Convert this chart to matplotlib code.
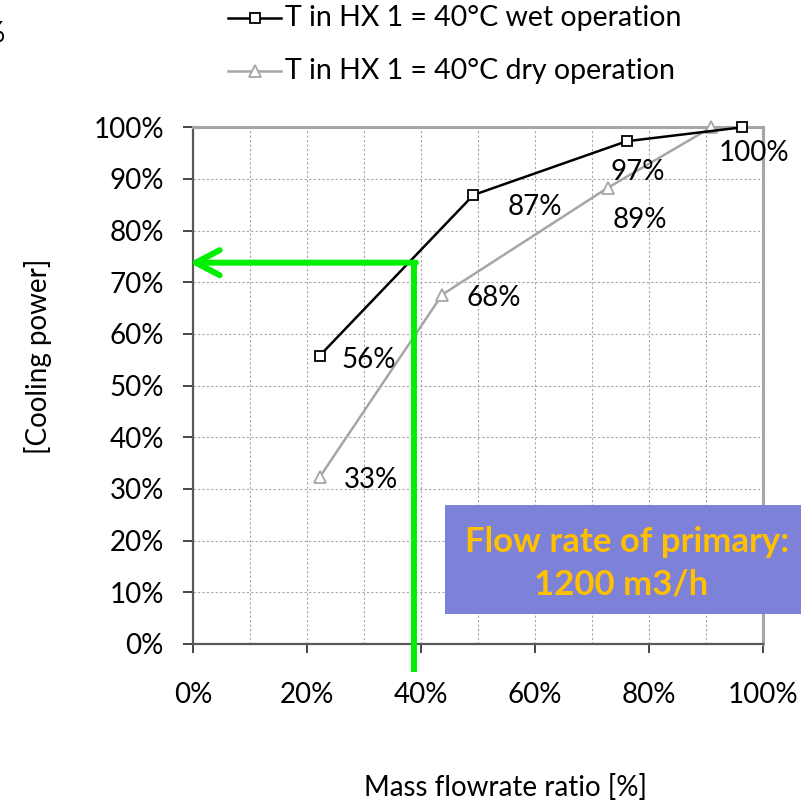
import matplotlib
matplotlib.use("Agg")
import matplotlib.pyplot as plt
from matplotlib.lines import Line2D
from matplotlib.patches import Rectangle
from matplotlib.ticker import MultipleLocator, FuncFormatter

plt.rcParams['font.family'] = ['Lato', 'DejaVu Sans']

# data (percent)
wet_x = [22.2, 49.2, 76.1, 96.4]
wet_y = [55.8, 86.9, 97.3, 100.0]
wet_labels = ["56%", "87%", "97%", "100%"]
dry_x = [22.2, 43.7, 72.8, 91.0]
dry_y = [32.3, 67.6, 88.3, 100.0]
dry_labels = ["33%", "68%", "89%", "100%"]
wet_name = "T in HX 1 = 40°C wet operation"
dry_name = "T in HX 1 = 40°C dry operation"
marker_ratio, marker_power = 38.8, 73.8
box_lines = ["Flow rate of primary:", "1200 m3/h"]

# label offsets in pixels (dx, dy) from each point
wet_off = [(49, -4), (61, -12), (11, -31), (12, -26)]
dry_off = [(51, -3), (52, -3), (32, -32), None]

W, H = 801, 802
fig = plt.figure(figsize=(W / 100, H / 100), dpi=100)
ax = fig.add_axes([193.3 / W, (H - 644) / H, (762.7 - 193.3) / W, (644 - 127.3) / H])
ax.set_xlim(0, 100); ax.set_ylim(0, 100)

pct = FuncFormatter(lambda v, p: f"{v:.0f}%")
ax.xaxis.set_major_locator(MultipleLocator(20)); ax.xaxis.set_minor_locator(MultipleLocator(10))
ax.yaxis.set_major_locator(MultipleLocator(10))
ax.xaxis.set_major_formatter(pct); ax.yaxis.set_major_formatter(pct)
ax.tick_params(axis='both', which='major', direction='out', labelsize=20, color='#262626', width=1.2)
ax.tick_params(axis='y', length=7.2, pad=14)
ax.tick_params(axis='x', length=6.5, pad=21)
ax.tick_params(axis='x', which='minor', length=0)
ax.grid(True, which='both', color='#A6A6A6', ls=(0, (2, 2)), lw=0.8)
ax.set_axisbelow(True)
for s in ('left', 'bottom'):
    ax.spines[s].set_color('#595959'); ax.spines[s].set_linewidth(1.6)
for s in ('top', 'right'):
    ax.spines[s].set_color('#A6A6A6'); ax.spines[s].set_linewidth(2.2)

ax.plot(wet_x, wet_y, color='black', lw=1.8, marker='s', ms=6.5, mfc='white', mec='black', mew=1.3, zorder=4, clip_on=False)
ax.plot(dry_x, dry_y, color='#A6A6A6', lw=1.8, marker='^', ms=8, mfc='white', mec='#A6A6A6', mew=1.3, zorder=3, clip_on=False)

px = 72 / 100
for x, y, t, o in zip(wet_x, wet_y, wet_labels, wet_off):
    ax.annotate(t, (x, y), xytext=(o[0] * px, o[1] * px), textcoords='offset points',
                ha='center', va='center', fontsize=20, zorder=6)
for x, y, t, o in zip(dry_x, dry_y, dry_labels, dry_off):
    if o is None:
        continue
    ax.annotate(t, (x, y), xytext=(o[0] * px, o[1] * px), textcoords='offset points',
                ha='center', va='center', fontsize=20, zorder=6)

# green reading guide
green = '#00F000'
ax.plot([marker_ratio, marker_ratio], [marker_power, -5.4], color=green, lw=4.3,
        solid_capstyle='butt', clip_on=False, zorder=7)
ax.annotate('', xy=(-0.7, marker_power), xytext=(marker_ratio + 0.3, marker_power),
            arrowprops=dict(arrowstyle='->,head_length=0.86,head_width=0.45', color=green, lw=4.3,
                            shrinkA=0, shrinkB=0, mutation_scale=20),
            annotation_clip=False, zorder=7)

# axis titles
fig.text(506 / W, 1 - 787 / H, "Mass flowrate ratio [%]", ha='center', va='center', fontsize=20)
fig.text(38 / W, 1 - 356 / H, "[Cooling power]", ha='center', va='center', rotation=90, fontsize=20)
fig.text(5 / W, 1 - 42 / H, "%", ha='right', va='baseline', fontsize=20)

# legend drawn by hand
for yy, col, mk, ms, name in [(18, 'black', 's', 6.5, wet_name), (71, '#A6A6A6', '^', 8, dry_name)]:
    fig.add_artist(Line2D([228 / W, 281 / W], [1 - yy / H] * 2, color=col, lw=1.8))
    fig.add_artist(Line2D([254.5 / W], [1 - yy / H], color=col, marker=mk, ms=ms, mfc='white', mec=col, mew=1.3))
    fig.text(285 / W, 1 - yy / H, name, ha='left', va='center', fontsize=20.5)

# info box
fig.add_artist(Rectangle((445 / W, 1 - 614 / H), (W - 445) / W + 0.01, 109 / H,
                         transform=fig.transFigure, facecolor='#7D81D7', edgecolor='none', zorder=10))
fig.text(627 / W, 1 - 552 / H, box_lines[0], ha='center', va='baseline', fontsize=25,
         fontweight='bold', color='#FFC000', zorder=11)
fig.text(621.5 / W, 1 - 595 / H, box_lines[1], ha='center', va='baseline', fontsize=25,
         fontweight='bold', color='#FFC000', zorder=11)

fig.savefig("out.png", dpi=100)
